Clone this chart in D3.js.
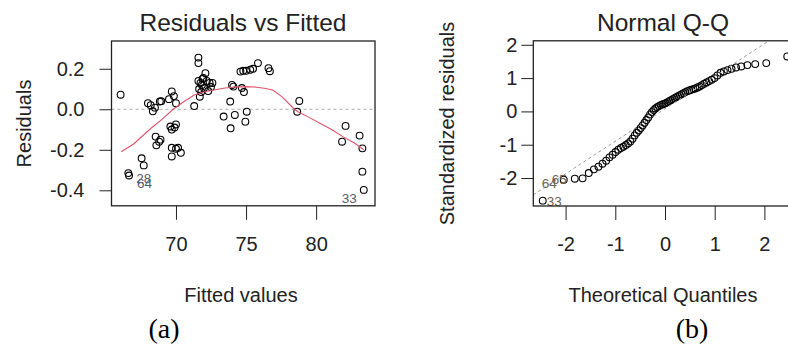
<!DOCTYPE html>
<html>
<head>
<meta charset="utf-8">
<script src="https://cdn.jsdelivr.net/npm/d3@7"></script>
<style>
	body { margin: 0; background: #fff; }
	text { font-family: "Liberation Sans", Arial, sans-serif; fill: #222; }
</style>
</head>
<body>
<div id="chart"></div>
<script>
// residuals vs fitted
const fittedValues = [
	66.05, 66.6, 66.65, 67.55, 67.7, 68.0, 68.2, 68.35, 68.5, 68.85, 68.95, 68.55, 68.8, 68.6, 68.9,
	69.7, 69.85, 69.5, 70.0, 69.6, 69.9, 70.0, 69.7, 69.7, 70.0, 70.35, 69.7, 70.15,
	71.3, 71.6, 71.6, 71.7, 71.6, 71.75, 71.9, 72.1, 71.85, 72.0, 72.2, 72.4, 71.65, 72.5, 72.3, 71.95, 72.6, 71.8,
	73.87, 74.0, 74.1, 74.7, 74.85, 74.6, 74.8, 75.0, 75.3, 75.5, 75.85, 76.6, 76.7,
	73.4, 74.2, 75.05, 74.95, 73.9, 78.8, 78.65, 82.1, 81.85, 83.1, 83.3, 83.3, 83.4
];
const residuals = [
	0.072, -0.315, -0.327, -0.242, -0.277, 0.03, 0.02, -0.01, 0.008, 0.038, 0.04, -0.135, -0.16, -0.178, -0.15,
	0.088, 0.065, 0.05, 0.03, -0.085, -0.09, -0.075, -0.1, -0.19, -0.195, -0.215, -0.233, -0.19,
	0.016, 0.255, 0.228, 0.062, 0.14, 0.13, 0.15, 0.178, 0.12, 0.105, 0.14, 0.13, 0.1, 0.11, 0.09, 0.155, 0.13, 0.085,
	0.038, 0.12, 0.112, 0.105, 0.085, 0.186, 0.19, 0.19, 0.195, 0.2, 0.228, 0.203, 0.188,
	-0.036, -0.028, -0.012, -0.061, -0.094, 0.041, -0.012, -0.082, -0.16, -0.13, -0.193, -0.308, -0.398
];
const smoothX = [66.1, 67.0, 68.2, 69.0, 69.8, 70.5, 71.3, 72.0, 72.7, 73.5, 74.2, 75.0, 75.6, 76.3, 76.9, 77.6, 78.3, 78.7, 79.5, 80.3, 81.1, 81.9, 82.7, 83.4];
const smoothY = [-0.21, -0.17, -0.095, -0.05, 0.0, 0.035, 0.07, 0.085, 0.095, 0.105, 0.11, 0.112, 0.11, 0.104, 0.095, 0.06, 0.01, -0.012, -0.04, -0.07, -0.1, -0.135, -0.165, -0.2];
const residIds = [1, 2, 71];
const residIdText = ["28", "64", "33"];
const fittedTicks = [70, 75, 80];
const residTicks = [-0.4, -0.2, 0.0, 0.2];

// normal q-q
const theoreticalQuantiles = [
	-2.46, -2.037, -1.815, -1.658, -1.534, -1.43, -1.339, -1.258, -1.184, -1.117, -1.054, -0.995, -0.94, -0.887, -0.837, -0.788, -0.742, -0.697,
	-0.653, -0.61, -0.569, -0.528, -0.489, -0.45, -0.411, -0.374, -0.337, -0.3, -0.264, -0.228, -0.193, -0.157, -0.122, -0.087, -0.052, -0.017,
	0.017, 0.052, 0.087, 0.122, 0.157, 0.193, 0.228, 0.264, 0.3, 0.337, 0.374, 0.411, 0.45, 0.489, 0.528, 0.569, 0.61, 0.653,
	0.697, 0.742, 0.788, 0.837, 0.887, 0.94, 0.995, 1.054, 1.117, 1.184, 1.258, 1.339, 1.43, 1.534, 1.658, 1.815, 2.037, 2.46
];
const standardizedResiduals = [
	-2.68, -2.05, -2.02, -2.01, -1.85, -1.74, -1.66, -1.57, -1.48, -1.38, -1.3, -1.22, -1.15, -1.1, -1.06, -1.01, -0.96, -0.9,
	-0.82, -0.72, -0.64, -0.57, -0.5, -0.42, -0.34, -0.26, -0.18, -0.09, -0.02, 0.04, 0.09, 0.13, 0.16, 0.19, 0.21, 0.23,
	0.25, 0.28, 0.31, 0.34, 0.37, 0.4, 0.43, 0.46, 0.49, 0.52, 0.55, 0.58, 0.61, 0.63, 0.65, 0.67, 0.69, 0.72,
	0.75, 0.79, 0.83, 0.87, 0.91, 0.95, 1.0, 1.08, 1.16, 1.2, 1.24, 1.28, 1.32, 1.35, 1.39, 1.42, 1.45, 1.65
];
const qqIntercept = 0.08;
const qqSlope = 0.976;
const qqIds = [0, 1, 2];
const qqIdText = ["33", "64", "65"];
const qqXTicks = [-2, -1, 0, 1, 2];
const qqYTicks = [-2, -1, 0, 1, 2];

const svg = d3
	.select("#chart")
	.append("svg")
	.attr("width", 788)
	.attr("height", 347);

svg.append("rect").attr("width", 788).attr("height", 347).attr("fill", "#fff");

// R prints a plain hyphen, d3.format gives a unicode minus
const hyphen = (f) => (d) => f(d).replace("\u2212", "-");

function drawPanel(opts) {
	const x = d3.scaleLinear().domain(opts.xDomain).range(opts.xRange);
	const y = d3.scaleLinear().domain(opts.yDomain).range(opts.yRange);
	const g = svg.append("g");

	g.append("clipPath")
		.attr("id", opts.id + "-clip")
		.append("rect")
		.attr("x", opts.xRange[0])
		.attr("y", opts.yRange[1])
		.attr("width", opts.xRange[1] - opts.xRange[0])
		.attr("height", opts.yRange[0] - opts.yRange[1]);

	const plot = g.append("g").attr("clip-path", `url(#${opts.id}-clip)`);

	// y axis, labels horizontal
	g.append("g")
		.attr("transform", `translate(${opts.xRange[0]},0)`)
		.call(d3.axisLeft(y).tickValues(opts.yTicks).tickSize(12).tickPadding(opts.yPad).tickFormat(hyphen(opts.yFormat)))
		.call((a) => a.select(".domain").remove())
		.call((a) => a.selectAll("line").attr("stroke", "#222"))
		.call((a) => a.selectAll("text").attr("font-size", 20).attr("fill", "#222").attr("font-family", "Liberation Sans, Arial, sans-serif"));

	g.append("g")
		.attr("transform", `translate(0,${opts.yRange[0]})`)
		.call(d3.axisBottom(x).tickValues(opts.xTicks).tickSize(14).tickPadding(17).tickFormat(hyphen(d3.format("d"))))
		.call((a) => a.select(".domain").remove())
		.call((a) => a.selectAll("line").attr("stroke", "#222"))
		.call((a) => a.selectAll("text").attr("font-size", 20).attr("fill", "#222").attr("font-family", "Liberation Sans, Arial, sans-serif"));

	return { x, y, g, plot };
}

// ---- panel (a)
const pa = drawPanel({
	id: "pa",
	xDomain: [65.4, 84.2],
	xRange: [111.5, 375],
	yDomain: [-0.4765, 0.337],
	yRange: [205.8, 41],
	xTicks: fittedTicks,
	yTicks: residTicks,
	yPad: 15,
	yFormat: d3.format(".1f")
});

pa.plot.append("line")
	.attr("x1", 111.5)
	.attr("x2", 375)
	.attr("y1", pa.y(0))
	.attr("y2", pa.y(0))
	.attr("stroke", "#aaa")
	.attr("stroke-dasharray", "3,3");

pa.plot.selectAll("circle")
	.data(fittedValues)
	.enter()
	.append("circle")
	.attr("cx", (d) => pa.x(d))
	.attr("cy", (d, i) => pa.y(residuals[i]))
	.attr("r", 3.4)
	.attr("fill", "none")
	.attr("stroke", "#000")
	.attr("stroke-width", 1.1);

pa.plot.append("path")
	.datum(smoothX)
	.attr("d", d3.line().x((d) => pa.x(d)).y((d, i) => pa.y(smoothY[i])))
	.attr("fill", "none")
	.attr("stroke", "#DF536B")
	.attr("stroke-width", 1.1);

const residOffsets = [[8, 10], [8, 12.5], [-7, 13]];
pa.g.selectAll(".id")
	.data(residIds)
	.enter()
	.append("text")
	.attr("x", (d, i) => pa.x(fittedValues[d]) + residOffsets[i][0])
	.attr("y", (d, i) => pa.y(residuals[d]) + residOffsets[i][1])
	.attr("text-anchor", (d, i) => (residOffsets[i][0] < 0 ? "end" : "start"))
	.attr("font-size", 13.5)
	.style("fill", "#55606e")
	.text((d, i) => residIdText[i]);

pa.g.append("rect")
	.attr("x", 111.5).attr("y", 41)
	.attr("width", 375 - 111.5).attr("height", 205.8 - 41)
	.attr("fill", "none").attr("stroke", "#222").attr("stroke-width", 1.3);

svg.append("text").attr("x", 243).attr("y", 31).attr("text-anchor", "middle").attr("font-size", 24.5).text("Residuals vs Fitted");
svg.append("text").attr("x", 241).attr("y", 302).attr("text-anchor", "middle").attr("font-size", 20).text("Fitted values");
svg.append("text")
	.attr("transform", "translate(31,123.5) rotate(-90)")
	.attr("text-anchor", "middle")
	.attr("font-size", 20)
	.text("Residuals");
svg.append("text")
	.attr("x", 164).attr("y", 338)
	.attr("text-anchor", "middle")
	.attr("font-size", 28)
	.style("font-family", "Liberation Serif, Times New Roman, serif")
	.style("fill", "#000")
	.text("(a)");

// ---- panel (b)
const pb = drawPanel({
	id: "pb",
	xDomain: [-2.65, 2.652],
	xRange: [533.3, 796.8],
	yDomain: [-2.84, 2.12],
	yRange: [206, 40.8],
	xTicks: qqXTicks,
	yTicks: qqYTicks,
	yPad: 4,
	yFormat: d3.format("d")
});

pb.plot.selectAll("circle")
	.data(theoreticalQuantiles)
	.enter()
	.append("circle")
	.attr("cx", (d) => pb.x(d))
	.attr("cy", (d, i) => pb.y(standardizedResiduals[i]))
	.attr("r", 3.4)
	.attr("fill", "none")
	.attr("stroke", "#000")
	.attr("stroke-width", 1.1);

pb.plot.append("line")
	.attr("x1", pb.x(-2.65))
	.attr("y1", pb.y(qqIntercept + qqSlope * -2.65))
	.attr("x2", pb.x(2.652))
	.attr("y2", pb.y(qqIntercept + qqSlope * 2.652))
	.attr("stroke", "#999")
	.attr("stroke-dasharray", "3,3");

const qqOffsets = [[4, 5], [-22, 8], [-23, 5]];
pb.g.selectAll(".id")
	.data(qqIds)
	.enter()
	.append("text")
	.attr("x", (d, i) => pb.x(theoreticalQuantiles[d]) + qqOffsets[i][0])
	.attr("y", (d, i) => pb.y(standardizedResiduals[d]) + qqOffsets[i][1])
	.attr("font-size", 13.5)
	.style("fill", "#6e6250")
	.text((d, i) => qqIdText[i]);

pb.g.append("rect")
	.attr("x", 533.3).attr("y", 40.8)
	.attr("width", 796.8 - 533.3).attr("height", 206 - 40.8)
	.attr("fill", "none").attr("stroke", "#222").attr("stroke-width", 1.3);

svg.append("text").attr("x", 663).attr("y", 31).attr("text-anchor", "middle").attr("font-size", 24.5).text("Normal Q-Q");
svg.append("text").attr("x", 663).attr("y", 302).attr("text-anchor", "middle").attr("font-size", 20).text("Theoretical Quantiles");
svg.append("text")
	.attr("transform", "translate(454,123.5) rotate(-90)")
	.attr("text-anchor", "middle")
	.attr("font-size", 20)
	.text("Standardized residuals");
svg.append("text")
	.attr("x", 692).attr("y", 338)
	.attr("text-anchor", "middle")
	.attr("font-size", 28)
	.style("font-family", "Liberation Serif, Times New Roman, serif")
	.style("fill", "#000")
	.text("(b)");
</script>
</body>
</html>
